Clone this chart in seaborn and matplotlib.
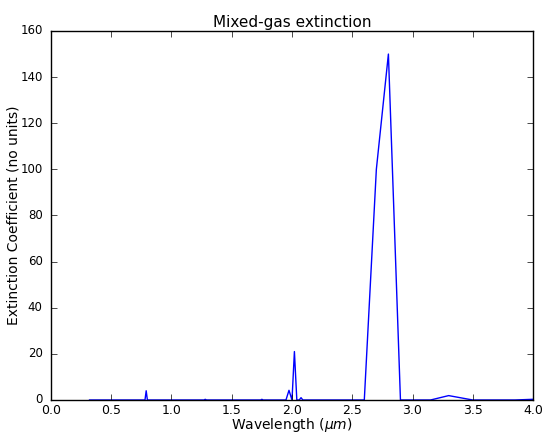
import matplotlib
matplotlib.use("Agg")
import matplotlib.pyplot as plt
import seaborn as sns
import pandas as pd

wavelength = [0.32, 0.78, 0.79, 0.80, 1.27, 1.28, 1.29, 1.74, 1.75, 1.76, 1.95, 1.975, 2.0, 2.02, 2.04, 2.06, 2.075, 2.09,
              2.6, 2.7, 2.8, 2.9, 3.15, 3.3, 3.5, 3.85, 4.0]
extinction = [0.0, 0.0, 4.0, 0.0, 0.0, 0.3, 0.0, 0.0, 0.3, 0.0, 0.0, 4.2, 0.0, 21.0, 0.0, 0.0, 1.0, 0.0,
              0.0, 100.0, 150.0, 0.0, 0.0, 1.9, 0.0, 0.0, 0.3]

df = pd.DataFrame({"wavelength": wavelength, "extinction": extinction})

plt.style.use("classic")
plt.rcParams["mathtext.fontset"] = "dejavusans"
fig = plt.figure(figsize=(5.43, 4.36), dpi=100)
ax = fig.add_axes([0.0939, 0.0826, 0.8877, 0.8463])
sns.lineplot(data=df, x="wavelength", y="extinction", ax=ax, color="blue", linewidth=1.0)
ax.set_xlim(0, 4.0)
ax.set_ylim(0, 160)
ax.set_xticks([0.0, 0.5, 1.0, 1.5, 2.0, 2.5, 3.0, 3.5, 4.0])
ax.set_yticks(range(0, 161, 20))
ax.tick_params(axis="x", labelsize=9, pad=3)
ax.tick_params(axis="y", labelsize=8.5, pad=6)
ax.set_xlabel(r"Wavelength ($\mu m$)", fontsize=10, labelpad=-1)
ax.set_ylabel("Extinction Coefficient (no units)", fontsize=10)
ax.yaxis.set_label_coords(-0.064, 0.5)
ax.set_title("Mixed-gas extinction", fontsize=11, pad=3)
fig.savefig("out.png", dpi=100)
